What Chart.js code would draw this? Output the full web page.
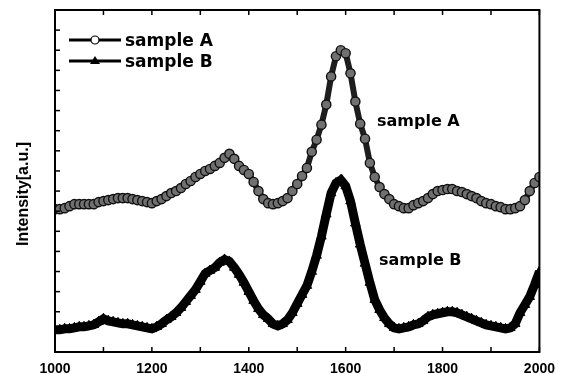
<!DOCTYPE html>
<html>
<head>
<meta charset="utf-8">
<script src="https://cdn.jsdelivr.net/npm/chart.js@4"></script>
<style>
  html, body { margin: 0; padding: 0; background: #fff; }
  #wrap { width: 564px; height: 374px; }
</style>
</head>
<body>
<div id="wrap"><canvas id="raman"></canvas></div>
<script>
// wavenumber positions (cm-1)
const wavenumbers = [
  1000, 1010, 1020, 1030, 1040, 1050, 1060, 1070, 1080, 1090,
  1100, 1110, 1120, 1130, 1140, 1150, 1160, 1170, 1180, 1190,
  1200, 1210, 1220, 1230, 1240, 1250, 1260, 1270, 1280, 1290,
  1300, 1310, 1320, 1330, 1340, 1350, 1360, 1370, 1380, 1390,
  1400, 1410, 1420, 1430, 1440, 1450, 1460, 1470, 1480, 1490,
  1500, 1510, 1520, 1530, 1540, 1550, 1560, 1570, 1580, 1590,
  1600, 1610, 1620, 1630, 1640, 1650, 1660, 1670, 1680, 1690,
  1700, 1710, 1720, 1730, 1740, 1750, 1760, 1770, 1780, 1790,
  1800, 1810, 1820, 1830, 1840, 1850, 1860, 1870, 1880, 1890,
  1900, 1910, 1920, 1930, 1940, 1950, 1960, 1970, 1980, 1990,
  2000
];

// intensity (a.u.)
const sampleA = [
  7.10, 7.10, 7.15, 7.25, 7.35, 7.35, 7.35, 7.35, 7.35, 7.45,
  7.50, 7.55, 7.60, 7.65, 7.65, 7.65, 7.60, 7.55, 7.50, 7.45,
  7.40, 7.50, 7.60, 7.75, 7.90, 8.00, 8.15, 8.35, 8.50, 8.70,
  8.85, 9.00, 9.10, 9.25, 9.40, 9.65, 9.85, 9.60, 9.25, 9.05,
  8.85, 8.45, 8.00, 7.60, 7.40, 7.35, 7.40, 7.50, 7.65, 8.00,
  8.35, 8.75, 9.15, 9.95, 10.55, 11.30, 12.30, 13.70, 14.70, 15.00,
  14.85, 13.85, 12.45, 11.35, 10.60, 9.40, 8.70, 8.20, 7.85, 7.60,
  7.35, 7.25, 7.15, 7.15, 7.30, 7.40, 7.50, 7.65, 7.85, 8.00,
  8.05, 8.10, 8.10, 8.00, 7.95, 7.85, 7.75, 7.65, 7.50, 7.40,
  7.35, 7.25, 7.20, 7.10, 7.10, 7.15, 7.25, 7.55, 8.00, 8.40,
  8.70
];

const sampleB = [
  1.10, 1.10, 1.15, 1.15, 1.20, 1.25, 1.25, 1.30, 1.35, 1.50,
  1.65, 1.55, 1.50, 1.45, 1.40, 1.40, 1.35, 1.30, 1.25, 1.20,
  1.15, 1.25, 1.40, 1.60, 1.75, 1.95, 2.20, 2.50, 2.80, 3.10,
  3.50, 3.90, 4.05, 4.20, 4.45, 4.60, 4.50, 4.20, 3.85, 3.45,
  3.00, 2.55, 2.15, 1.85, 1.65, 1.40, 1.30, 1.40, 1.60, 1.95,
  2.40, 2.85, 3.30, 4.00, 4.80, 5.75, 6.85, 7.90, 8.40, 8.55,
  8.25, 7.50, 6.40, 5.35, 4.40, 3.45, 2.60, 2.10, 1.70, 1.40,
  1.20, 1.15, 1.20, 1.25, 1.35, 1.40, 1.55, 1.75, 1.85, 1.90,
  1.95, 2.00, 2.00, 1.95, 1.85, 1.75, 1.65, 1.55, 1.45, 1.35,
  1.30, 1.25, 1.20, 1.15, 1.20, 1.40, 1.95, 2.35, 2.75, 3.35,
  4.00
];

// tick marks (inward, no labels on y)
const xTicks = [1000, 1100, 1200, 1300, 1400, 1500, 1600, 1700, 1800, 1900, 2000];
const yTicks = [1, 2, 3, 4, 5, 6, 7, 8, 9, 10, 11, 12, 13, 14, 15, 16];

const pointsOf = (ys) => wavenumbers.map((w, i) => ({ x: w, y: ys[i] }));

// frame, inward ticks, axis title, legend and the curve labels
const decorations = {
  id: 'decorations',
  afterDraw(chart) {
    const { ctx, chartArea: a, scales } = chart;
    ctx.save();
    ctx.strokeStyle = '#000';
    ctx.lineWidth = 1.5;
    xTicks.forEach(v => {
      const px = scales.x.getPixelForValue(v);
      ctx.beginPath();
      ctx.moveTo(px, a.bottom); ctx.lineTo(px, a.bottom - 5);
      ctx.moveTo(px, a.top); ctx.lineTo(px, a.top + 5);
      ctx.stroke();
    });
    yTicks.forEach(v => {
      const py = scales.y.getPixelForValue(v);
      ctx.beginPath();
      ctx.moveTo(a.left, py); ctx.lineTo(a.left + 5, py);
      ctx.stroke();
    });
    ctx.lineWidth = 2;
    ctx.strokeRect(a.left, a.top, a.right - a.left, a.bottom - a.top);

    // y axis title
    ctx.fillStyle = '#000';
    ctx.font = 'bold 16px "Liberation Sans", Arial, sans-serif';
    ctx.textAlign = 'center';
    ctx.textBaseline = 'middle';
    ctx.translate(24, 194);
    ctx.rotate(-Math.PI / 2);
    ctx.fillText('Intensity[a.u.]', 0, 0);
    ctx.setTransform(1, 0, 0, 1, 0, 0);

    // legend
    ctx.lineWidth = 3;
    ctx.strokeStyle = '#000';
    ctx.beginPath(); ctx.moveTo(69, 40); ctx.lineTo(121, 40); ctx.stroke();
    ctx.beginPath(); ctx.moveTo(69, 61); ctx.lineTo(121, 61); ctx.stroke();
    ctx.lineWidth = 1.2;
    ctx.fillStyle = '#fff';
    ctx.beginPath(); ctx.arc(95, 40, 4, 0, Math.PI * 2); ctx.fill(); ctx.stroke();
    ctx.fillStyle = '#000';
    ctx.beginPath(); ctx.moveTo(95, 56); ctx.lineTo(100, 64); ctx.lineTo(90, 64); ctx.closePath(); ctx.fill();

    ctx.textAlign = 'left';
    ctx.textBaseline = 'alphabetic';
    ctx.font = 'bold 17px "DejaVu Sans", sans-serif';
    ctx.fillText('sample A', 125, 46);
    ctx.fillText('sample B', 125, 67);

    ctx.font = 'bold 16px "DejaVu Sans", sans-serif';
    ctx.fillText('sample A', 377, 126);
    ctx.fillText('sample B', 379, 265);
    ctx.restore();
  }
};

new Chart(document.getElementById('raman'), {
  type: 'line',
  data: {
    datasets: [
      {
        label: 'sample B',
        data: pointsOf(sampleB),
        borderColor: '#000',
        borderWidth: 9,
        pointStyle: 'triangle',
        pointRadius: 5.5,
        pointBackgroundColor: '#000',
        pointBorderColor: '#000',
        pointBorderWidth: 1,
        tension: 0
      },
      {
        label: 'sample A',
        data: pointsOf(sampleA),
        borderColor: '#1e1e1e',
        borderWidth: 6,
        pointStyle: 'circle',
        pointRadius: 4.6,
        pointBackgroundColor: '#707070',
        pointBorderColor: '#111',
        pointBorderWidth: 1.4,
        tension: 0
      }
    ]
  },
  options: {
    responsive: true,
    maintainAspectRatio: false,
    animation: false,
    layout: { padding: { left: 55, right: 22, top: 10, bottom: 0 } },
    plugins: {
      legend: { display: false },
      tooltip: { enabled: false }
    },
    scales: {
      x: {
        type: 'linear',
        min: 1000,
        max: 2000,
        grid: { display: false, drawTicks: false },
        border: { display: false },
        ticks: {
          stepSize: 200,
          padding: 9,
          color: '#000',
          font: { family: '"Liberation Sans", Arial, sans-serif', size: 14, weight: 'bold' },
          callback: (v) => String(v)
        },
        afterFit(scale) { scale.height = 22; }
      },
      y: {
        display: false,
        min: 0,
        max: 17
      }
    }
  },
  plugins: [decorations]
});
</script>
</body>
</html>
